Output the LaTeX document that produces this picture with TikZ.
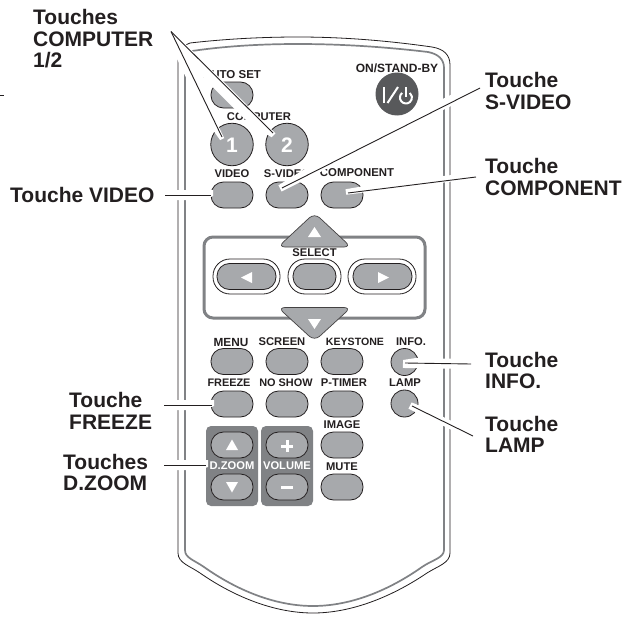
\documentclass[tikz,border=0pt]{standalone}
\usepackage{fontspec}
\setmainfont{Liberation Sans}
\usetikzlibrary{calc}
\definecolor{ink}{HTML}{231F20}
\definecolor{btn}{HTML}{A7A9AC}
\definecolor{pan}{HTML}{808285}
\definecolor{pow}{HTML}{58595B}
\tikzset{
  x=1pt,y=-1pt,
  lab/.style={font=\fontsize{21}{21.5}\selectfont\bfseries,text=ink,align=left,anchor=west,inner sep=0pt},
  small/.style={font=\fontsize{#1}{12}\selectfont\bfseries,text=ink,inner sep=0pt},
  small/.default=11.2,
  smallw/.style={small,text=white},
  pill/.style={draw=ink,line width=0.8pt,fill=btn,rounded corners=12.5pt,minimum width=42pt,minimum height=26pt,inner sep=0pt},
  round/.style={draw=ink,line width=0.8pt,fill=btn,circle,inner sep=0pt,minimum size=#1},
  wide/.style={pill,minimum width=#1},
  ring/.style={draw=ink,line width=0.8pt,fill=white,rounded corners=17pt,minimum height=35pt,minimum width=#1,inner sep=0pt},
  panel/.style={fill=pan,rounded corners=5pt,minimum width=52pt,minimum height=80pt,inner sep=0pt},
  outerline/.style={draw=ink,line width=0.8pt},
  innerline/.style={draw=pan,line width=1.7pt},
  leader/.style={draw=ink,line width=0.9pt},
  tri/.style={fill=white},
  arrowkey/.style={fill=btn,draw=ink!75!btn,line width=0.7pt,rounded corners=7pt},
}
% white band beside a leader: #1 start, #2 tip, #3 right side, #4 right side at the tip, #5 left side
\newcommand{\leaderband}[5]{%
  \coordinate (hs) at ($(#1)!12pt!(#2)$);
  \coordinate (hm) at ($(#1)!.85!(#2)$);
  \coordinate (ht) at ($(#2)!-2pt!(#1)$);
  \fill[white] ($(hs)!#3pt!-90:(#2)$) -- ($(hm)!#3pt!-90:(#2)$) -- ($(ht)!#4pt!90:(#1)$)
     -- ($(ht)!#5pt!-90:(#1)$) -- ($(hs)!#5pt!90:(#2)$) -- cycle;
}
\begin{document}
\begin{tikzpicture}
\useasboundingbox (0,0) rectangle (629,618);
\fill[white] (0,0) rectangle (629,618);

% body
\draw[outerline] (178,63) .. controls (178,52) and (182,46) .. (190,43)
  .. controls (225,39) and (262,37) .. (298,37)
  .. controls (345,37) and (390,41) .. (432,47)
  .. controls (444,49) and (450,55) .. (450,65) -- (450,553)
  .. controls (450,563) and (438,566) .. (427,573)
  .. controls (390,598) and (350,613) .. (313,613)
  .. controls (276,613) and (236,598) .. (200,573)
  .. controls (190,566) and (178,563) .. (178,553) -- cycle;
\draw[innerline] (185,65) .. controls (185,57) and (187,53) .. (192,51)
  .. controls (226,46) and (262,44) .. (298,44)
  .. controls (342,44) and (386,47) .. (428,52)
  .. controls (438,54) and (444,59) .. (444,68) -- (444,550)
  .. controls (444,558) and (432,560) .. (422,567)
  .. controls (388,591) and (350,606) .. (313,606)
  .. controls (276,606) and (238,591) .. (204,567)
  .. controls (194,560) and (185,558) .. (185,550) -- cycle;

% top keys
\node[small=11.5] (tauto) at (232,75) {AUTO SET};
\node[pill] (bauto) at (232,95) {};
\node[small] (tcomp) at (259,117) {COMPUTER};
\node[round=42.5pt] (b1) at (232,144.5) {};
\node[round=42.5pt] (b2) at (287,144.5) {};
\node[font=\fontsize{21}{21}\selectfont\bfseries,text=white,inner sep=0pt] (d1) at (232,145) {1};
\node[font=\fontsize{21}{21}\selectfont\bfseries,text=white,inner sep=0pt] (d2) at (287,145) {2};
\node[small=12] (tstand) at (397,68) {ON/STAND-BY};
\node[circle,fill=pow,inner sep=0pt,minimum size=43pt] (bpow) at (397,94) {};
\draw[white,line width=2.2pt] (384,87) -- (384,103);
\draw[white,line width=2pt] (387.5,103) -- (398,87);
\draw[white,line width=2pt] (402.1,92.9) arc[start angle=130,end angle=410,radius=6pt];
\draw[white,line width=2pt] (406,87) -- (406,97);

\node[small] (tvid) at (232,174) {VIDEO};
\node[small] (tsvid) at (287,174) {S-VIDEO};
\node[small=11.4] (tcmp) at (357,173) {COMPONENT};
\node[pill] (bvid) at (232,195) {};
\node[pill] (bsvid) at (287,195) {};
\node[pill] (bcmp) at (342,195) {};

% select block
\draw[pan,line width=3pt,rounded corners=9pt] (204,237) rectangle (425,318);
\node[ring=67pt] (rl) at (246.5,276.5) {};
\node[ring=53pt] (rc) at (314.5,276.5) {};
\node[ring=68pt] (rr) at (382,276.5) {};
\node[wide=59pt] (bl) at (246.5,276.5) {};
\node[wide=43pt] (bc) at (314.5,276.5) {};
\node[wide=59pt] (br) at (382.5,276.5) {};
\fill[tri] (252,272) -- (252,283) -- (241,277.5) -- cycle;
\fill[tri] (378,272) -- (378,283) -- (389,277.5) -- cycle;
\draw[arrowkey] (314.5,213) -- (351,247) -- (278,247) -- cycle;
\draw[arrowkey] (314.5,341) -- (351,307.5) -- (278,307.5) -- cycle;
\fill[tri] (314.5,227) -- (321,237) -- (308,237) -- cycle;
\fill[tri] (314.5,329) -- (321,319) -- (308,319) -- cycle;
\node[small] (tsel) at (314.5,253) {SELECT};

% menu rows
\node[small=11.8] (tmenu) at (231,342) {MENU};
\node[small] (tscr) at (282,342) {SCREEN};
\node[small=10.6] (tkey) at (355,342) {KEYSTONE};
\node[small] (tinfo) at (411,342) {INFO.};
\node[pill] (bmenu) at (232,361.5) {};
\node[pill] (bscr) at (287,361.5) {};
\node[pill] (bkey) at (342,361.5) {};
\node[round=27pt] (binfo) at (404.5,362) {};
\node[small=10.9] (tfrz) at (229,383) {FREEZE};
\node[small=10.9] (tnos) at (286,383) {NO SHOW};
\node[small] (tpt) at (344,383) {P-TIMER};
\node[small] (tlamp) at (405,383) {LAMP};
\node[pill] (bfrz) at (232,404) {};
\node[pill] (bnos) at (287,404) {};
\node[pill] (bpt) at (342,404) {};
\node[round=27pt] (blamp) at (404.5,403.5) {};

% bottom panels
\node[panel] (pz) at (232,466) {};
\node[panel] (pv) at (287,466) {};
\node[pill] (bzu) at (232,445) {};
\node[pill] (bzd) at (232,487) {};
\node[pill] (bvu) at (287,445) {};
\node[pill] (bvd) at (287,487) {};
\fill[tri] (232,439.5) -- (238,450) -- (226,450) -- cycle;
\fill[tri] (232,492.5) -- (238,482) -- (226,482) -- cycle;
\fill[white] (281,444.5) rectangle (293,447.5);
\fill[white] (285.5,440) rectangle (288.5,452);
\fill[white] (281,485.5) rectangle (293,488.5);
\node[smallw] (tzoom) at (232,466) {D.ZOOM};
\node[smallw] (tvol) at (287,466) {VOLUME};
\node[small] (timg) at (342,425) {IMAGE};
\node[pill] (bimg) at (342,445) {};
\node[small] (tmute) at (342,467) {MUTE};
\node[pill] (bmute) at (342,487) {};

% labels
\node[lab] (lcomp) at (33,39) {Touches\\COMPUTER\\1/2};
\node[lab] (lvid) at (10,195) {Touche VIDEO};
\node[lab] (lsvid) at (485,91) {Touche\\S-VIDEO};
\node[lab] (lcmp) at (485,177) {Touche\\COMPONENT};
\node[lab] (linfo) at (485,370.5) {Touche\\INFO.};
\node[lab] (llamp) at (485,434.5) {Touche\\LAMP};
\node[lab] (lfrz) at (69,411) {Touche\\FREEZE};
\node[lab] (lzoom) at (63,472.5) {Touches\\D.ZOOM};

% leader ends
\coordinate (apex) at (171,31.5);
\coordinate (e1) at (222,137);
\coordinate (e2) at (273,133);
\coordinate (s1) at (480,88);
\coordinate (e3) at (282,188);
\coordinate (s2) at (476,177);
\coordinate (e4) at (348,193);
\coordinate (s3) at (165,195);
\coordinate (e5) at (211,195);
\coordinate (s4) at (471,364);
\coordinate (e6) at (405,363);
\coordinate (s5) at (473,436);
\coordinate (e7) at (412,406);
\coordinate (s6) at (164,405);
\coordinate (e8) at (212,405);
\coordinate (s7) at (164,465);
\coordinate (e9) at (206,465);
\coordinate (d1a) at (0,95);
\coordinate (d1b) at (3.5,95);

\leaderband{apex}{e1}{6.5}{3}{1.5}
\leaderband{apex}{e2}{10}{4}{1.5}
\leaderband{s1}{e3}{7}{4}{3}
\leaderband{s2}{e4}{5}{4}{1.5}
\leaderband{s3}{e5}{5}{1}{5}
\leaderband{s4}{e6}{5}{3}{5}
\leaderband{s5}{e7}{4}{3}{4}
\leaderband{s6}{e8}{5}{1}{5}
\leaderband{s7}{e9}{5}{2}{5}
\foreach \a/\b in {apex/e1,apex/e2,s1/e3,s2/e4,s3/e5,s4/e6,s5/e7,s6/e8,s7/e9,d1a/d1b}
  \draw[leader] (\a) -- (\b);
\end{tikzpicture}
\end{document}
